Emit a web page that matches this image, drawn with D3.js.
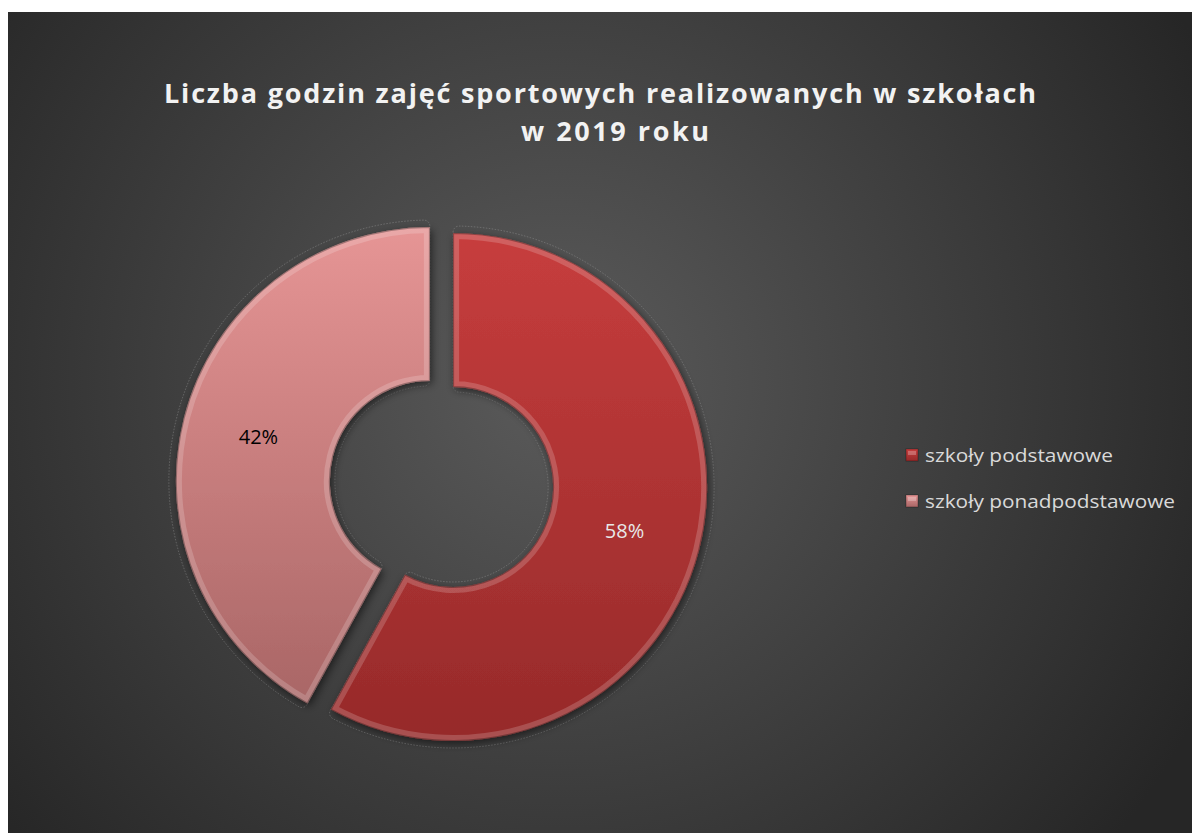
<!DOCTYPE html>
<html>
<head>
<meta charset="utf-8">
<script src="https://cdn.jsdelivr.net/npm/d3@7"></script>
<style>
  body { margin: 0; background: #ffffff; }
  svg { display: block; }
</style>
</head>
<body>
<div id="chart"></div>
<script>
// chart data
const categories = ["szkoły podstawowe", "szkoły ponadpodstawowe"];
const values = [58, 42];
const labels = ["58%", "42%"];
const titleLines = ["Liczba godzin zajęć sportowych realizowanych w szkołach", "w 2019 roku"];

const colors = [
  { top: "#c73d3d", bottom: "#962a2a", label: "#e8e8e8" },
  { top: "#e69595", bottom: "#a96666", label: "#000000" }
];

var width = 1192, height = 833;
var outerR = 254, innerR = 100, explode = 12;
var cx = 441.5, cy = 484;

var svg = d3.select("#chart")
  .append("svg")
    .attr("width", width)
    .attr("height", height);

var defs = svg.append("defs");

// background
var bg = defs.append("radialGradient")
    .attr("id", "bg")
    .attr("gradientUnits", "userSpaceOnUse")
    .attr("cx", 560).attr("cy", 380).attr("r", 720);
bg.append("stop").attr("offset", "0%").attr("stop-color", "#5b5b5b");
bg.append("stop").attr("offset", "100%").attr("stop-color", "#262626");

svg.append("rect")
    .attr("x", 8).attr("y", 12)
    .attr("width", width - 8).attr("height", height - 12)
    .attr("fill", "url(#bg)");

// shadow under the slices
var shadow = defs.append("filter")
    .attr("id", "shadow")
    .attr("x", "-20%").attr("y", "-20%")
    .attr("width", "140%").attr("height", "140%");
shadow.append("feDropShadow")
    .attr("dx", 2).attr("dy", 3)
    .attr("stdDeviation", 4)
    .attr("flood-color", "#000")
    .attr("flood-opacity", 0.55);

colors.forEach(function(c, i) {
  var g = defs.append("linearGradient")
      .attr("id", "slice" + i)
      .attr("x1", 0).attr("y1", 0)
      .attr("x2", 0).attr("y2", 1);
  g.append("stop").attr("offset", "0%").attr("stop-color", c.top);
  g.append("stop").attr("offset", "100%").attr("stop-color", c.bottom);
});

// title
var title = svg.append("g")
    .attr("font-family", "'Open Sans', sans-serif")
    .attr("font-weight", "bold")
    .attr("font-size", 27)
    .attr("fill", "#f2f2f2")
    .attr("text-anchor", "middle");
title.append("text")
    .attr("x", 600).attr("y", 103)
    .attr("textLength", 872)
    .attr("lengthAdjust", "spacing")
    .text(titleLines[0]);
title.append("text")
    .attr("x", 615).attr("y", 141)
    .attr("textLength", 188)
    .attr("lengthAdjust", "spacing")
    .text(titleLines[1]);

// donut
var pie = d3.pie().sort(null).value(function(d) { return d; });
var arcs = pie(values);

var arc = d3.arc().innerRadius(innerR).outerRadius(outerR);
var halo = d3.arc().innerRadius(innerR - 5).outerRadius(outerR + 7).cornerRadius(6);

function offset(d) {
  var a = (d.startAngle + d.endAngle) / 2;
  return [cx + Math.sin(a) * explode, cy - Math.cos(a) * explode];
}

var slices = svg.selectAll(".slice")
  .data(arcs)
  .enter()
  .append("g")
    .attr("class", "slice")
    .attr("transform", function(d) { var o = offset(d); return "translate(" + o[0] + "," + o[1] + ")"; });

// faint dotted outline around each slice
slices.append("path")
    .attr("d", halo)
    .attr("fill", "none")
    .attr("stroke", "#9a9a9a")
    .attr("stroke-opacity", 0.55)
    .attr("stroke-width", 0.8)
    .attr("stroke-dasharray", "1.5,1.5");

slices.append("clipPath")
    .attr("id", function(d, i) { return "clip" + i; })
  .append("path")
    .attr("d", arc);

slices.append("path")
    .attr("d", arc)
    .attr("fill", function(d, i) { return "url(#slice" + i + ")"; })
    .attr("filter", "url(#shadow)");

// bevel: light inner rim plus darker edge
slices.append("path")
    .attr("d", arc)
    .attr("fill", "none")
    .attr("stroke", "#ffffff")
    .attr("stroke-opacity", 0.18)
    .attr("stroke-width", 12)
    .attr("clip-path", function(d, i) { return "url(#clip" + i + ")"; });
slices.append("path")
    .attr("d", arc)
    .attr("fill", "none")
    .attr("stroke", "#000000")
    .attr("stroke-opacity", 0.3)
    .attr("stroke-width", 2)
    .attr("clip-path", function(d, i) { return "url(#clip" + i + ")"; });

slices.append("text")
    .attr("transform", function(d) { return "translate(" + arc.centroid(d) + ")"; })
    .attr("text-anchor", "middle")
    .attr("dy", "0.35em")
    .attr("font-family", "'Open Sans', sans-serif")
    .attr("font-size", 20)
    .attr("fill", function(d, i) { return colors[i].label; })
    .text(function(d, i) { return labels[i]; });

// legend
var legend = svg.selectAll(".legend")
  .data(categories)
  .enter()
  .append("g")
    .attr("class", "legend")
    .attr("transform", function(d, i) { return "translate(906," + (449 + i * 46) + ")"; });

legend.append("rect")
    .attr("width", 12).attr("height", 12)
    .attr("fill", function(d, i) { return "url(#slice" + i + ")"; })
    .attr("stroke", "#000")
    .attr("stroke-opacity", 0.3);
legend.append("rect")
    .attr("x", 2).attr("y", 2)
    .attr("width", 8).attr("height", 4)
    .attr("fill", "#fff")
    .attr("fill-opacity", 0.25);

legend.append("text")
    .attr("x", 19).attr("y", 13)
    .attr("font-family", "'Open Sans', sans-serif")
    .attr("font-size", 19)
    .attr("fill", "#d9d9d9")
    .attr("textLength", function(d, i) { return i === 0 ? 188 : 250; })
    .attr("lengthAdjust", "spacingAndGlyphs")
    .text(function(d) { return d; });
</script>
</body>
</html>
